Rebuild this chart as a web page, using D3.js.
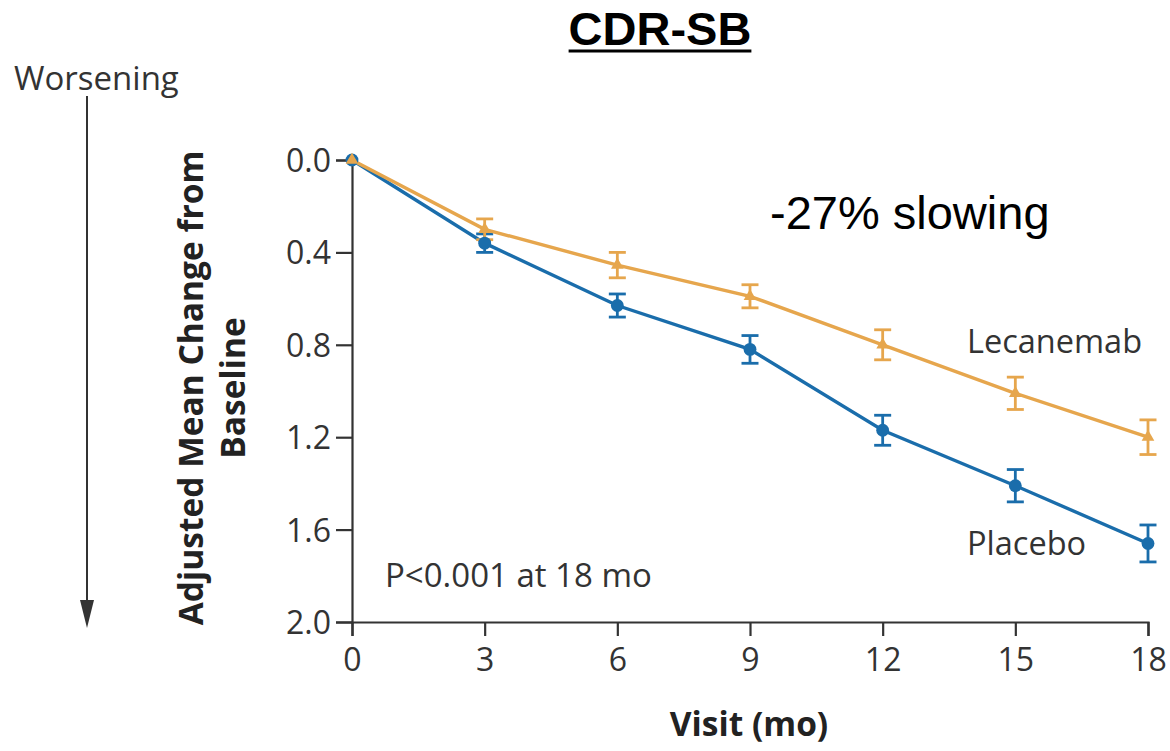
<!DOCTYPE html>
<html>
<head>
<meta charset="utf-8">
<script src="https://cdn.jsdelivr.net/npm/d3@7"></script>
<style>
  html, body { margin: 0; padding: 0; background: #fff; }
  svg { display: block; }
</style>
</head>
<body>
<svg id="chart" width="1170" height="751"></svg>
<script>
// Visits in months
const visits = [0, 3, 6, 9, 12, 15, 18];
// Adjusted mean change from baseline in CDR-SB
const lecanemab = [0.0, 0.30, 0.455, 0.59, 0.80, 1.01, 1.20];
const lecanemabErr = [0.0, 0.045, 0.055, 0.05, 0.065, 0.07, 0.075];
const placebo = [0.0, 0.36, 0.63, 0.82, 1.17, 1.41, 1.66];
const placeboErr = [0.0, 0.04, 0.05, 0.06, 0.065, 0.07, 0.08];
const yTicks = [0.0, 0.4, 0.8, 1.2, 1.6, 2.0];
const xTicks = [0, 3, 6, 9, 12, 15, 18];

const orange = "#E6A64D";
const blue = "#1A6DAB";
const ink = "#333333";
const font = "'Open Sans', Lato, sans-serif";

const svg = d3.select("#chart");

const x = d3.scaleLinear().domain([0, 18]).range([352, 1148]);
const y = d3.scaleLinear().domain([0, 2.0]).range([160, 622]);

// Axes
const yAxis = d3.axisLeft(y).tickValues(yTicks).tickFormat(d3.format(".1f")).tickSize(16).tickPadding(5);
const xAxis = d3.axisBottom(x).tickValues(xTicks).tickSize(14).tickPadding(12);

const gy = svg.append("g").attr("transform", `translate(${x(0)},0)`).call(yAxis);
const gx = svg.append("g").attr("transform", `translate(0,${y(2.0)})`).call(xAxis);
[gy, gx].forEach(g => {
  g.select(".domain").attr("stroke", ink).attr("stroke-width", 2.2);
  g.selectAll(".tick line").attr("stroke", ink).attr("stroke-width", 2.2);
  g.selectAll(".tick text").attr("fill", ink).style("font-family", font).style("font-size", "32px");
});
gy.selectAll(".tick text").attr("dy", "0.36em");

// Series: lines and error bars first, markers afterwards
const series = [
  { vals: placebo, errs: placeboErr, color: blue, marker: d3.symbolCircle, size: 130 },
  { vals: lecanemab, errs: lecanemabErr, color: orange, marker: d3.symbolTriangle, size: 70 }
].map(s => ({ ...s, pts: visits.map((v, i) => ({ v, m: s.vals[i], e: s.errs[i] })) }));

series.forEach(s => {
  svg.append("path")
    .datum(s.pts)
    .attr("fill", "none")
    .attr("stroke", s.color)
    .attr("stroke-width", 3.4)
    .attr("d", d3.line().x(d => x(d.v)).y(d => y(d.m)));

  const eb = svg.append("g").attr("stroke", s.color).attr("stroke-width", 2.8);
  s.pts.filter(d => d.e > 0).forEach(d => {
    const cx = x(d.v);
    eb.append("line").attr("x1", cx).attr("x2", cx).attr("y1", y(d.m - d.e)).attr("y2", y(d.m + d.e));
    eb.append("line").attr("x1", cx - 8.5).attr("x2", cx + 8.5).attr("y1", y(d.m - d.e)).attr("y2", y(d.m - d.e));
    eb.append("line").attr("x1", cx - 8.5).attr("x2", cx + 8.5).attr("y1", y(d.m + d.e)).attr("y2", y(d.m + d.e));
  });
});

series.forEach(s => {
  svg.append("g").selectAll("path")
    .data(s.pts)
    .join("path")
    .attr("transform", d => `translate(${x(d.v)},${y(d.m)})`)
    .attr("d", d3.symbol().type(s.marker).size(s.size))
    .attr("fill", s.color);
});

// Series labels
svg.append("text").attr("x", 967).attr("y", 353).text("Lecanemab")
  .attr("fill", ink).style("font-family", font).style("font-size", "32.5px");
svg.append("text").attr("x", 967).attr("y", 555).text("Placebo")
  .attr("fill", ink).style("font-family", font).style("font-size", "32.5px");

// P-value note
svg.append("text").attr("x", 385).attr("y", 587).text("P<0.001 at 18 mo")
  .attr("fill", ink).style("font-family", font).style("font-size", "33px");

// Effect annotation
svg.append("text").attr("x", 770).attr("y", 229).text("-27% slowing")
  .attr("fill", "#000").style("font-family", "'Liberation Sans', Arial, sans-serif").style("font-size", "47px");

// Title
const title = svg.append("text").attr("x", 660).attr("y", 45).attr("text-anchor", "middle").text("CDR-SB")
  .attr("fill", "#000").style("font-family", "'Liberation Sans', Arial, sans-serif")
  .style("font-size", "47px").style("font-weight", "bold");
const tb = title.node().getBBox();
svg.append("line").attr("x1", tb.x).attr("x2", tb.x + tb.width).attr("y1", 51).attr("y2", 51)
  .attr("stroke", "#000").attr("stroke-width", 3);

// Y axis title
const yt = svg.append("text").attr("transform", "translate(203,388) rotate(-90)")
  .attr("text-anchor", "middle").attr("fill", "#222")
  .style("font-family", font).style("font-size", "33.5px").style("font-weight", "bold");
yt.append("tspan").attr("x", 0).attr("dy", 0).text("Adjusted Mean Change from");
yt.append("tspan").attr("x", 0).attr("dy", "1.25em").text("Baseline");

// X axis title
svg.append("text").attr("x", 749).attr("y", 736).attr("text-anchor", "middle").text("Visit (mo)")
  .attr("fill", "#222").style("font-family", font).style("font-size", "33.5px").style("font-weight", "bold");

// Worsening arrow
svg.append("text").attr("x", 14).attr("y", 90).text("Worsening")
  .attr("fill", ink).style("font-family", font).style("font-size", "33px");
svg.append("line").attr("x1", 87).attr("x2", 87).attr("y1", 96).attr("y2", 605)
  .attr("stroke", ink).attr("stroke-width", 2);
svg.append("path").attr("d", "M80,600 L94,600 L87,628 Z").attr("fill", ink);
</script>
</body>
</html>
